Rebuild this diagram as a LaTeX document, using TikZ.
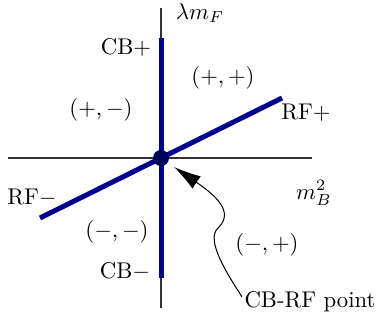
\documentclass[tikz,border=0pt]{standalone}
\usetikzlibrary{arrows.meta}
\definecolor{navy}{RGB}{0,0,145}
\begin{document}
\begin{tikzpicture}[x=0.44pt,y=-0.44pt,
  axis/.style={draw=black!80,line width=0.6pt},
  branch/.style={draw=navy,line width=2.2pt},
  lbl/.style={inner sep=0pt}]
\useasboundingbox (0,0) rectangle (382,320);
\coordinate (O) at (161,158);
\coordinate (yt) at (161,8);
\coordinate (yb) at (161,308);
\coordinate (xl) at (8,158);
\coordinate (xr) at (312,158);
\draw[axis] (yt) -- (yb);
\draw[axis] (xl) -- (xr);
\coordinate (cbt) at (161,38);
\coordinate (cbb) at (161,278);
\coordinate (rfl) at (40,218);
\coordinate (rfr) at (282,98);
\draw[branch] (cbt) -- (cbb);
\draw[branch] (rfl) -- (rfr);
\fill[navy!60!black] (O) circle (8);
\node[lbl] (lam) at (200,13) {$\lambda m_F$};
\node[lbl] (cbp) at (126,47) {CB$+$};
\node[lbl] (pp) at (223,78) {$(+,+)$};
\node[lbl] (pm) at (101,110) {$(+,-)$};
\node[lbl] (rfp) at (306,113) {RF$+$};
\node[lbl] (mb) at (314,193) {$m_B^2$};
\node[lbl] (rfm) at (32,198) {RF$-$};
\node[lbl] (mm) at (117,232) {$(-,-)$};
\node[lbl] (mp) at (267,245) {$(-,+)$};
\node[lbl] (cbm) at (125,271) {CB$-$};
\node[lbl] (pt) at (310,302) {CB-RF point};
\coordinate (tip) at (174,167);
\draw[line width=0.45pt,-{Latex[length=12pt,width=6.5pt]}] (pt.west) ++(-2,-5)
  .. controls (228,275) and (205,240) .. (218,228)
  .. controls (235,212) and (215,195) .. (tip);
\end{tikzpicture}
\end{document}
